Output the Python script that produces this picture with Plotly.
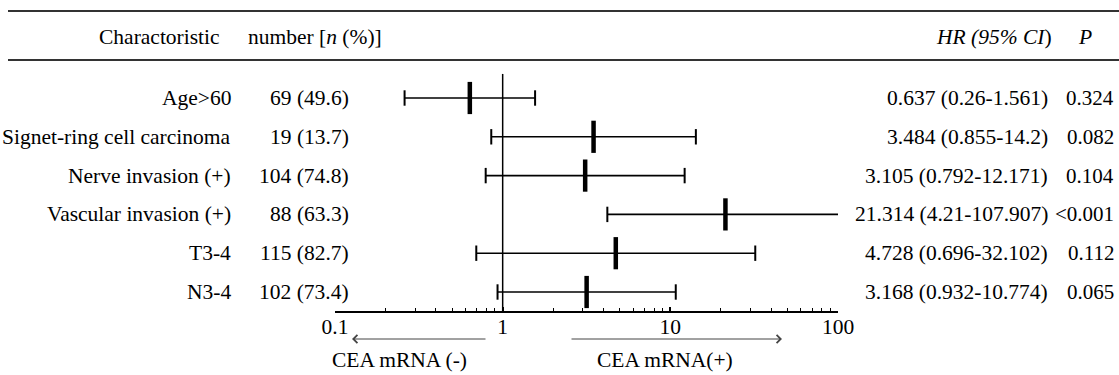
import plotly.graph_objects as go

# ---------------- data ----------------
characteristics = ["Age>60", "Signet-ring cell carcinoma", "Nerve invasion (+)",
                   "Vascular invasion (+)", "T3-4", "N3-4"]
numbers = ["69 (49.6)", "19 (13.7)", "104 (74.8)", "88 (63.3)", "115 (82.7)", "102 (73.4)"]
hr = [0.637, 3.484, 3.105, 21.314, 4.728, 3.168]
ci_low = [0.26, 0.855, 0.792, 4.21, 0.696, 0.932]
ci_high = [1.561, 14.2, 12.171, 107.907, 32.102, 10.774]
p_values = ["0.324", "0.082", "0.104", "<0.001", "0.112", "0.065"]
tick_vals = [0.1, 1, 10, 100]
tick_text = ["0.1", "1", "10", "100"]
minor_vals = [k * 10 ** e for e in (-1, 0, 1) for k in range(2, 10)]

# ---------------- layout constants ----------------
W, H = 1119, 375
FONT = "Liberation Serif"
FS = 21.5
row_top_px, row_step_px, axis_px = 98, 38.8, 311
y_top = -row_top_px / row_step_px
y_bottom = (axis_px - row_top_px) / row_step_px

def px(x):
    return x / W

def py(y):
    return (H - y) / H

rows = list(range(len(characteristics)))

fig = go.Figure()

# CI lines
lx, ly = [], []
for i, lo, hi in zip(rows, ci_low, ci_high):
    lx += [lo, hi, None]
    ly += [i, i, None]
fig.add_trace(go.Scatter(x=lx, y=ly, mode="lines",
                         line=dict(color="black", width=1.6),
                         hoverinfo="skip", showlegend=False))
# caps
fig.add_trace(go.Scatter(x=ci_low + ci_high, y=rows + rows, mode="markers",
                         marker=dict(symbol="line-ns", size=11,
                                     line=dict(color="black", width=2)),
                         hoverinfo="skip", showlegend=False))
# point estimates
fig.add_trace(go.Scatter(x=hr, y=rows, mode="markers",
                         marker=dict(symbol="line-ns", size=23,
                                     line=dict(color="black", width=4.5)),
                         showlegend=False))

shapes = [
    dict(type="line", xref="x", yref="y", x0=1, x1=1, y0=-0.62, y1=y_bottom,
         line=dict(color="black", width=1.5)),
    dict(type="line", xref="paper", yref="paper", x0=px(8), x1=1, y0=py(11), y1=py(11),
         line=dict(color="#333", width=2)),
    dict(type="line", xref="paper", yref="paper", x0=px(8), x1=1, y0=py(60), y1=py(60),
         line=dict(color="#333", width=2)),
]

tf = dict(family=FONT, size=FS, color="black")
tfp = dict(family=FONT, size=21, color="black")
ann = []
# headers
ann.append(dict(text="Charactoristic", x=px(222), y=py(37), xref="paper", yref="paper",
                xanchor="right", yanchor="middle", showarrow=False, font=tf))
ann.append(dict(text="number [<i>n</i> (%)]", x=px(246), y=py(37), xref="paper", yref="paper",
                xanchor="left", yanchor="middle", showarrow=False, font=tf))
ann.append(dict(text="<i>HR (95% CI</i>)", x=px(1054), y=py(37), xref="paper", yref="paper",
                xanchor="right", yanchor="middle", showarrow=False, font=tf))
ann.append(dict(text="<i>P</i>", x=px(1076), y=py(37), xref="paper", yref="paper",
                xanchor="left", yanchor="middle", showarrow=False, font=tf))

for i, c, n, h, lo, hi, p in zip(rows, characteristics, numbers, hr, ci_low, ci_high, p_values):
    ann.append(dict(text=c, x=px(233), y=i, xref="paper", yref="y",
                    xanchor="right", yanchor="middle", showarrow=False, font=tf))
    ann.append(dict(text=n, x=px(351), y=i, xref="paper", yref="y",
                    xanchor="right", yanchor="middle", showarrow=False, font=tf))
    ann.append(dict(text=f"{h} ({lo}-{hi})", x=px(1050), y=i, xref="paper", yref="y",
                    xanchor="right", yanchor="middle", showarrow=False, font=tf,
                    bgcolor="white"))
    ann.append(dict(text=p, x=px(1116), y=i, xref="paper", yref="y",
                    xanchor="right", yanchor="middle", showarrow=False, font=tfp))

# arrows
ann.append(dict(text="", x=px(352), y=py(339), xref="paper", yref="paper",
                ax=135, ay=0, showarrow=True, arrowhead=4, arrowsize=1.6,
                arrowwidth=1, arrowcolor="#444"))
ann.append(dict(text="", x=px(782), y=py(339), xref="paper", yref="paper",
                ax=-212, ay=0, showarrow=True, arrowhead=4, arrowsize=1.6,
                arrowwidth=1, arrowcolor="#444"))
ann.append(dict(text="CEA mRNA (-)", x=px(330), y=py(360), xref="paper", yref="paper",
                xanchor="left", yanchor="middle", showarrow=False, font=tf))
ann.append(dict(text="CEA mRNA(+)", x=px(595), y=py(360), xref="paper", yref="paper",
                xanchor="left", yanchor="middle", showarrow=False, font=tf))

fig.update_layout(
    width=W, height=H, autosize=False,
    margin=dict(l=0, r=0, t=0, b=0, pad=0, autoexpand=False),
    paper_bgcolor="white", plot_bgcolor="white",
    showlegend=False,
    shapes=shapes, annotations=ann,
    xaxis=dict(type="log", range=[-1, 2], domain=[px(335), px(838)],
               showline=True, linecolor="black", linewidth=1.5,
               ticks="inside", ticklen=4, tickwidth=1.5, tickcolor="black",
               tickmode="array", tickvals=tick_vals, ticktext=tick_text,
               tickfont=tf, ticklabelstandoff=-5,
               showgrid=False, zeroline=False, automargin=False,
               minor=dict(tickmode="array", tickvals=minor_vals, ticks="inside",
                          ticklen=3, tickwidth=1, tickcolor="black", showgrid=False)),
    yaxis=dict(range=[y_bottom, y_top], domain=[py(axis_px), 1], visible=False,
               showgrid=False, zeroline=False, automargin=False),
)

fig.write_html("out.html",
               config={"responsive": False, "displayModeBar": False},
               post_script="document.body.style.margin='0';document.body.style.padding='0';"
                           "document.body.style.overflow='hidden';"
                           "document.documentElement.style.overflow='hidden';")
